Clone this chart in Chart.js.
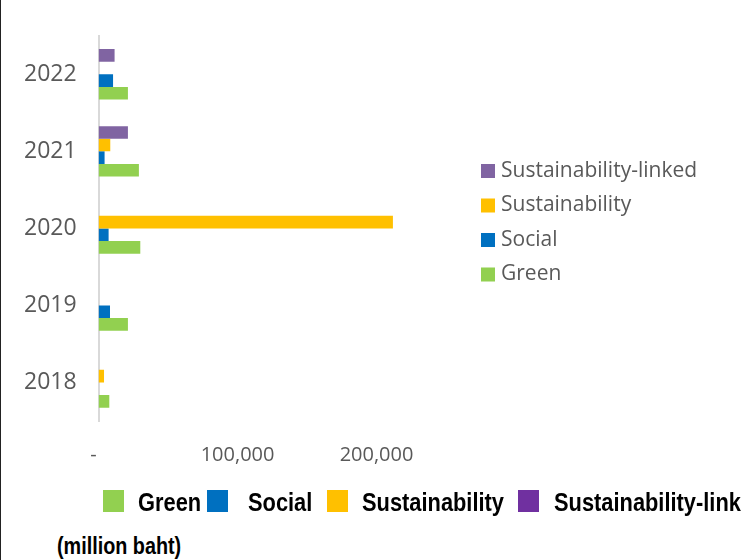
<!DOCTYPE html>
<html>
<head>
<meta charset="utf-8">
<script src="https://cdn.jsdelivr.net/npm/chart.js@4"></script>
<style>
  html, body { margin: 0; padding: 0; background: #fff; }
  body { width: 745px; height: 560px; overflow: hidden; position: relative; }
  .edge { position: absolute; left: 0; top: 0; width: 1px; height: 560px; background: #222; z-index: 2; }
  .wrap { position: absolute; left: 0; top: 0; width: 745px; height: 489px; }
  .key { position: absolute; width: 21px; height: 22px; top: 490px; }
  .lbl {
    position: absolute; top: 487px; white-space: nowrap;
    font: bold 26px "Liberation Sans", Arial, sans-serif; color: #000;
    transform: scaleX(0.84); transform-origin: left top;
  }
  .unit {
    position: absolute; left: 57px; top: 533px; white-space: nowrap;
    font: bold 23px "Liberation Sans", Arial, sans-serif; color: #000;
    transform: scaleX(0.86); transform-origin: left top;
  }
</style>
</head>
<body>
<div class="edge"></div>
<div class="wrap"><canvas id="bond-chart"></canvas></div>

<div class="key" style="left:103px;background:#92d050"></div>
<div class="lbl" style="left:138px">Green</div>
<div class="key" style="left:207px;background:#0070c0"></div>
<div class="lbl" style="left:248px">Social</div>
<div class="key" style="left:327px;background:#ffc000"></div>
<div class="lbl" style="left:362px">Sustainability</div>
<div class="key" style="left:518px;background:#7030a0"></div>
<div class="lbl" style="left:554px">Sustainability-link</div>
<div class="unit">(million baht)</div>

<script>
'use strict';

// ── Data (million baht) ───────────────────────────────────────
const years        = ['2022', '2021', '2020', '2019', '2018'];
const linkedVals   = [11500, 21100,      0,     0,    0];
const sustVals     = [    0,  8400, 211800,     0, 3900];
const socialVals   = [10400,  4300,   7200,  8200,    0];
const greenVals    = [21100, 29000,  30000, 21100, 7700];
const xTicks       = [0, 100000, 200000];

const grey = '#595959';
const fontFam = '"Open Sans", "Noto Sans", sans-serif';

// ── Side legend (drawn beside the plot) ───────────────────────
const sideLegend = {
  id: 'sideLegend',
  afterDraw(chart) {
    const { ctx } = chart;
    ctx.save();
    ctx.font = `21px ${fontFam}`;
    ctx.textBaseline = 'middle';
    chart.data.datasets.forEach((ds, i) => {
      const y = 171 + i * 34.5;
      ctx.fillStyle = ds.backgroundColor;
      ctx.fillRect(481, y - 7, 14, 14);
      ctx.fillStyle = grey;
      ctx.fillText(ds.label, 501, y);
    });
    ctx.restore();
  }
};

// ── Chart ─────────────────────────────────────────────────────
new Chart(document.getElementById('bond-chart'), {
  type: 'bar',
  data: {
    labels: years,
    datasets: [
      { label: 'Sustainability-linked', data: linkedVals, backgroundColor: '#8064a2' },
      { label: 'Sustainability',        data: sustVals,   backgroundColor: '#ffc000' },
      { label: 'Social',                data: socialVals, backgroundColor: '#0070c0' },
      { label: 'Green',                 data: greenVals,  backgroundColor: '#92d050' }
    ]
  },
  plugins: [sideLegend],
  options: {
    indexAxis: 'y',
    responsive: true,
    maintainAspectRatio: false,
    animation: false,
    datasets: { bar: { categoryPercentage: 0.655, barPercentage: 1, borderWidth: 0 } },
    layout: { padding: { top: 31, left: 2, right: 299, bottom: 0 } },
    plugins: {
      tooltip: { enabled: false },
      legend: { display: false }
    },
    scales: {
      x: {
        min: 0,
        max: 250000,
        afterBuildTicks: scale => {
          scale.ticks = xTicks.map(v => ({ value: v }));
        },
        grid: { display: false, drawTicks: false },
        border: { display: false },
        ticks: {
          padding: 22,
          color: grey,
          font: { family: fontFam, size: 20 },
          callback: v => v === 0 ? '-  ' : v.toLocaleString('en-US')
        }
      },
      y: {
        grid: { display: false, drawTicks: false },
        border: { display: true, color: '#d9d9d9', width: 2 },
        ticks: {
          padding: 22,
          color: grey,
          font: { family: fontFam, size: 23 }
        }
      }
    }
  }
});
</script>
</body>
</html>
